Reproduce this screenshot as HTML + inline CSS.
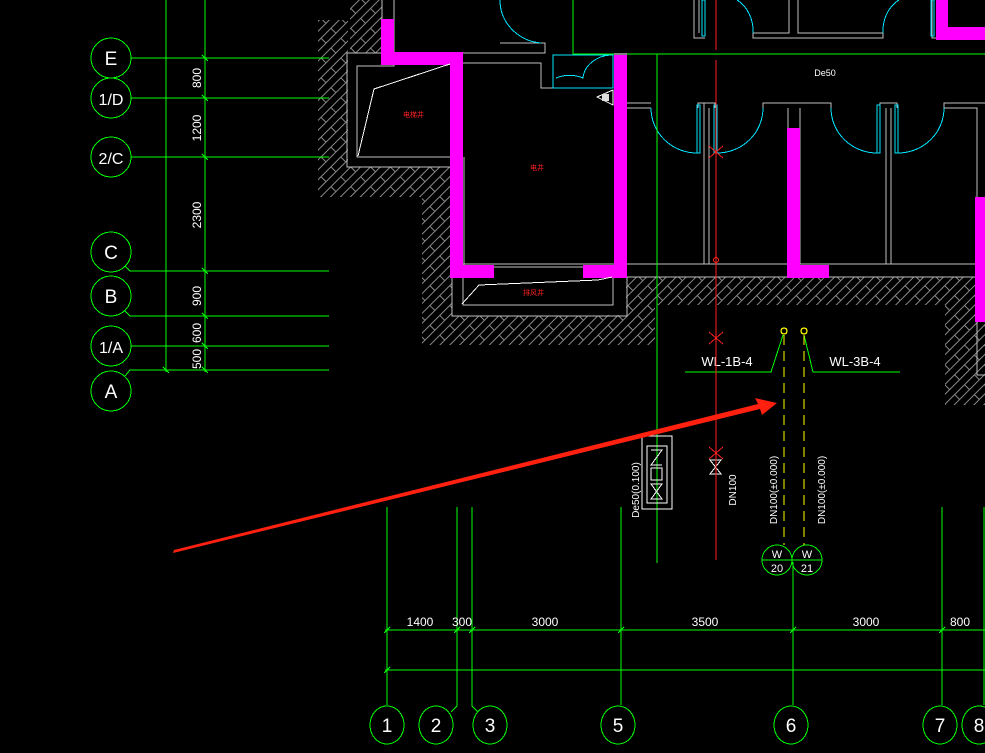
<!DOCTYPE html>
<html><head><meta charset="utf-8">
<style>
html,body{margin:0;padding:0;background:#000;}
svg{display:block;}
text{font-family:"Liberation Sans","Noto Sans CJK SC",sans-serif;}
</style></head>
<body>
<svg width="985" height="753" viewBox="0 0 985 753" xmlns="http://www.w3.org/2000/svg" shape-rendering="crispEdges">
<defs>
<pattern id="h" patternUnits="userSpaceOnUse" width="14" height="14" patternTransform="rotate(-45)">
<rect width="14" height="14" fill="#000"/>
<line x1="0" y1="2" x2="14" y2="2" stroke="#8a8a8a" stroke-width="1"/>
<line x1="0" y1="9" x2="14" y2="9" stroke="#8a8a8a" stroke-width="1"/>
<line x1="4" y1="2" x2="4" y2="9" stroke="#8a8a8a" stroke-width="1"/>
</pattern>
</defs>
<rect width="985" height="753" fill="#000"/>

<g fill="url(#h)">
<rect x="318" y="20" width="30" height="177"/>
<rect x="350" y="0" width="32" height="53"/>
<rect x="318" y="167" width="134" height="30"/>
<rect x="422" y="167" width="30" height="178"/>
<rect x="422" y="316" width="233" height="29"/>
<rect x="600" y="277" width="385" height="28"/>
<rect x="600" y="277" width="55" height="68"/>
<rect x="945" y="277" width="40" height="128"/>
</g>
<rect x="348" y="54" width="106" height="112" fill="#000"/>
<rect x="453" y="54" width="173" height="261" fill="#000"/>

<g fill="none" stroke="#c0c0c0" stroke-width="1">
<polyline points="382,0 382,53 347,53 347,167 450,167"/>
<polyline points="394,0 394,66 357,66 357,157 450,157"/>
<polyline points="463,53 545,53 545,43 500,43"/>
<polyline points="463,63 541,63 541,88 553,88"/>
<line x1="464" y1="157" x2="464" y2="265"/>
<polyline points="452,277 452,316 627,316 627,277"/>
<polyline points="463,277 463,305 613,305 613,277"/>
<line x1="455" y1="264" x2="985" y2="264"/>
<line x1="455" y1="267" x2="627" y2="267"/>
<line x1="620" y1="277" x2="985" y2="277"/>
<polyline points="627,103 651,103"/>
<polyline points="627,108 651,108"/>
<line x1="704" y1="103" x2="704" y2="264"/><line x1="709" y1="108" x2="709" y2="264"/>
<polyline points="698,108 698,103 715,103 715,108"/>
<polyline points="763,108 763,103 831,103 831,108"/>
<line x1="788" y1="108" x2="788" y2="264"/><line x1="800" y1="108" x2="800" y2="264"/>
<polyline points="880,108 880,103 897,103 897,108"/>
<line x1="886" y1="108" x2="886" y2="264"/><line x1="891" y1="108" x2="891" y2="264"/>
<polyline points="944,108 944,103 985,103"/><polyline points="944,108 977,108 977,197"/>
<polyline points="753,33 753,38 883,38 883,33"/>
<polyline points="789,0 789,33 753,33"/><polyline points="798,0 798,33 883,33"/>
<polyline points="694,0 694,38 705,38"/><polyline points="699,0 699,33"/>
<polyline points="932,0 932,38 985,38"/>
<polyline points="945,0 945,33 985,33"/>
<polyline points="977,322 977,375 985,375"/>
</g>

<g fill="#ff00ff">
<rect x="381" y="19" width="13" height="46"/>
<rect x="381" y="52" width="82" height="13"/>
<rect x="450" y="52" width="13" height="226"/>
<rect x="614" y="53" width="13" height="225"/>
<rect x="463" y="265" width="31" height="13"/>
<rect x="583" y="265" width="44" height="13"/>
<rect x="787" y="128" width="13" height="149"/>
<rect x="787" y="265" width="42" height="13"/>
<rect x="975" y="197" width="10" height="125"/>
<rect x="936" y="0" width="12" height="40"/>
<rect x="948" y="27" width="37" height="13"/>
</g>

<g fill="none" stroke="#00e5ff" stroke-width="1">
<path d="M500,0 A45,43 0 0 0 541,43"/>
<rect x="553" y="55" width="60" height="33"/>
<path d="M556,78 A30,25 0 0 1 583,78 A30,25 0 0 1 610,55"/>
<path d="M651,108 A46,45 0 0 0 697,153"/>
<path d="M763,108 A46,45 0 0 1 717,153"/>
<path d="M831,108 A46,45 0 0 0 877,153"/>
<path d="M944,108 A46,45 0 0 1 898,153"/>
<path d="M737,0 A30,35 0 0 1 753,33"/>
<path d="M899,0 A30,35 0 0 0 883,33"/>
<rect x="697" y="105" width="3" height="48"/><rect x="714" y="105" width="3" height="48"/>
<rect x="877" y="105" width="3" height="48"/><rect x="895" y="105" width="3" height="48"/>
<rect x="702" y="0" width="3" height="36"/><rect x="931" y="0" width="3" height="36"/>
</g>

<g fill="none" stroke="#fff" stroke-width="1">
<polyline points="358,156 374,89 450,64"/>
<polyline points="462,304 479,285 598,280 612,277"/>
<polygon points="597,97 613,90 613,105"/>
</g>
<rect x="602" y="94" width="7" height="7" fill="#ddd"/>

<g fill="#ff2020" font-size="7">
<text x="403" y="117">电梯井</text>
<text x="530" y="170">电井</text>
<text x="523" y="295">排风井</text>
</g>

<g stroke="#00ff00" stroke-width="1" fill="none">
<polyline points="573,0 573,54 985,54"/>
<line x1="657" y1="54" x2="657" y2="563"/>
<line x1="166" y1="0" x2="166" y2="372"/>
<line x1="205" y1="0" x2="205" y2="372"/>
<line x1="131" y1="58" x2="329" y2="58"/>
<line x1="131" y1="98" x2="329" y2="98"/>
<line x1="131" y1="157" x2="329" y2="157"/>
<polyline points="125,266 130,271 329,271"/>
<polyline points="125,311 130,316 329,316"/>
<line x1="131" y1="346" x2="329" y2="346"/>
<polyline points="125,376 130,370 329,370"/>
<circle cx="111" cy="58" r="20"/>
<circle cx="111" cy="98" r="20"/>
<circle cx="111" cy="157" r="20"/>
<circle cx="111" cy="252" r="20"/>
<circle cx="111" cy="296" r="20"/>
<circle cx="111" cy="346" r="20"/>
<circle cx="111" cy="391" r="20"/>
<line x1="387" y1="507" x2="387" y2="705"/>
<polyline points="457,507 457,706 451,712"/>
<polyline points="472,507 472,706 478,712"/>
<line x1="621" y1="507" x2="621" y2="705"/>
<line x1="793" y1="562" x2="793" y2="705"/>
<line x1="942" y1="507" x2="942" y2="705"/>
<line x1="984" y1="507" x2="984" y2="705"/>
<line x1="385" y1="630" x2="985" y2="630"/>
<line x1="385" y1="670" x2="985" y2="670"/>
<ellipse cx="387" cy="725" rx="17" ry="19"/>
<ellipse cx="436" cy="725" rx="17" ry="19"/>
<ellipse cx="490" cy="725" rx="17" ry="19"/>
<ellipse cx="618" cy="725" rx="17" ry="19"/>
<ellipse cx="791" cy="725" rx="17" ry="19"/>
<ellipse cx="940" cy="725" rx="17" ry="19"/>
<ellipse cx="979" cy="725" rx="17" ry="19"/>
<polyline points="685,372 771,372 783,335"/>
<polyline points="804,335 813,372 900,372"/>
<circle cx="777" cy="560" r="15"/>
<circle cx="807" cy="560" r="15"/>
<line x1="762" y1="560" x2="822" y2="560"/>
</g>
<g stroke="#00ff00" stroke-width="1">
<line x1="202" y1="55" x2="208" y2="61"/><line x1="202" y1="95" x2="208" y2="101"/>
<line x1="202" y1="154" x2="208" y2="160"/><line x1="202" y1="268" x2="208" y2="274"/>
<line x1="202" y1="313" x2="208" y2="319"/><line x1="202" y1="343" x2="208" y2="349"/>
<line x1="202" y1="367" x2="208" y2="373"/><line x1="163" y1="367" x2="169" y2="373"/>
<line x1="384" y1="633" x2="390" y2="627"/><line x1="454" y1="633" x2="460" y2="627"/>
<line x1="469" y1="633" x2="475" y2="627"/><line x1="618" y1="633" x2="624" y2="627"/>
<line x1="790" y1="633" x2="796" y2="627"/><line x1="939" y1="633" x2="945" y2="627"/>
<line x1="384" y1="673" x2="390" y2="667"/>
</g>

<g fill="#fff" font-size="19" text-anchor="middle">
<text x="111" y="65">E</text>
<text x="111" y="105" font-size="16">1/D</text>
<text x="111" y="164" font-size="16">2/C</text>
<text x="111" y="259">C</text>
<text x="111" y="303">B</text>
<text x="111" y="353" font-size="16">1/A</text>
<text x="111" y="398">A</text>
<text x="387" y="732">1</text>
<text x="436" y="732">2</text>
<text x="490" y="732">3</text>
<text x="618" y="732">5</text>
<text x="791" y="732">6</text>
<text x="940" y="732">7</text>
<text x="979" y="732">8</text>
</g>
<g fill="#fff" font-size="12" text-anchor="middle">
<text transform="translate(201,78) rotate(-90)">800</text>
<text transform="translate(201,128) rotate(-90)">1200</text>
<text transform="translate(201,215) rotate(-90)">2300</text>
<text transform="translate(201,296) rotate(-90)">900</text>
<text transform="translate(201,333) rotate(-90)">600</text>
<text transform="translate(201,359) rotate(-90)">500</text>
<text x="420" y="626">1400</text>
<text x="462" y="626">300</text>
<text x="545" y="626">3000</text>
<text x="705" y="626">3500</text>
<text x="866" y="626">3000</text>
<text x="960" y="626">800</text>
<text x="825" y="76" font-size="9">De50</text>
<text x="727" y="366" font-size="13">WL-1B-4</text>
<text x="855" y="366" font-size="13">WL-3B-4</text>
<text x="777" y="558" font-size="11">W</text>
<text x="807" y="558" font-size="11">W</text>
<text x="777" y="572" font-size="11">20</text>
<text x="807" y="572" font-size="11">21</text>
<text transform="translate(639,490) rotate(-90)" font-size="10">De50(0.100)</text>
<text transform="translate(736,490) rotate(-90)" font-size="10">DN100</text>
<text transform="translate(777,490) rotate(-90)" font-size="10">DN100(±0.000)</text>
<text transform="translate(825,490) rotate(-90)" font-size="10">DN100(±0.000)</text>
</g>

<g fill="none" stroke="#fff" stroke-width="1">
<rect x="642" y="436" width="30" height="73"/>
<rect x="647" y="446" width="20" height="57"/>
<polyline points="651,450 662,450 651,465 662,465"/>
<rect x="651" y="468" width="11" height="12"/>
<polygon points="651,484 662,484 651,499 662,499"/>
<polygon points="710,460 721,460 710,474 721,474"/>
</g>

<g stroke="#ff2020" stroke-width="1" fill="none">
<line x1="716" y1="0" x2="716" y2="50"/>
<line x1="716" y1="60" x2="716" y2="560"/>
<line x1="709" y1="146" x2="723" y2="158"/><line x1="709" y1="158" x2="723" y2="146"/>
<line x1="709" y1="332" x2="723" y2="344"/><line x1="709" y1="344" x2="723" y2="332"/>
<line x1="709" y1="447" x2="723" y2="459"/><line x1="709" y1="459" x2="723" y2="447"/>
<circle cx="716" cy="260" r="2.5"/>
</g>

<g stroke="#ffff00" stroke-width="1.3" fill="none">
<line x1="784" y1="335" x2="784" y2="545" stroke-dasharray="10,6"/>
<line x1="804" y1="335" x2="804" y2="545" stroke-dasharray="10,6"/>
<circle cx="784" cy="331" r="3"/>
<circle cx="804" cy="331" r="3"/>
</g>

<polygon shape-rendering="geometricPrecision" points="173,553 174,550 758,404 755,398 777,403 762,415 760,409" fill="#ff2010"/>
</svg>
</body></html>
